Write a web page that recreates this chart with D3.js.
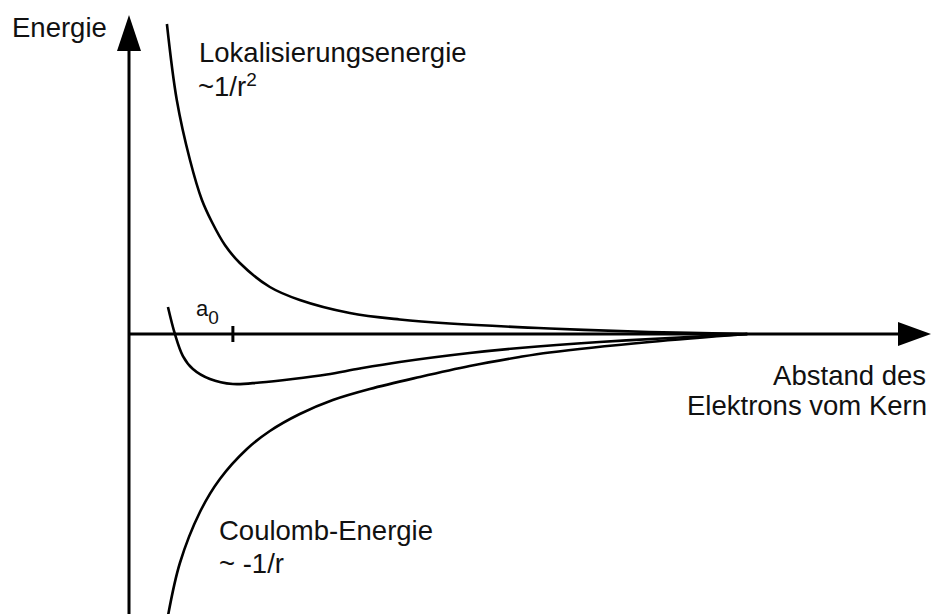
<!DOCTYPE html>
<html>
<head>
<meta charset="utf-8">
<script src="https://cdn.jsdelivr.net/npm/d3@7"></script>
<style>
  html, body { margin: 0; padding: 0; background: #fff; }
  svg text { font-family: "Liberation Sans", Arial, sans-serif; fill: #111; }
</style>
</head>
<body>
<svg id="chart" width="932" height="614"></svg>
<script>
// distance r in units of a0, energy in arbitrary units
const lokalR = [0.365, 0.46, 0.587, 0.702, 0.798, 0.923, 1.067, 1.356, 1.644, 2.125, 2.606, 3.087, 4.048, 5.01, 5.952];
const lokalE = [3.10, 2.34, 1.74, 1.34, 1.12, 0.89, 0.71, 0.47, 0.34, 0.21, 0.145, 0.105, 0.055, 0.02, 0.00];

const totalR = [0.375, 0.442, 0.519, 0.615, 0.779, 1.00, 1.26, 1.577, 1.904, 2.221, 2.606, 3.279, 3.76, 4.529, 5.298, 5.952];
const totalE = [0.27, 0.00, -0.22, -0.35, -0.45, -0.50, -0.485, -0.45, -0.405, -0.345, -0.28, -0.19, -0.14, -0.08, -0.035, 0.00];

const coulR = [0.375, 0.49, 0.683, 0.875, 1.135, 1.356, 1.644, 1.962, 2.317, 2.798, 3.279, 3.76, 4.048, 5.01, 5.952];
const coulE = [-2.82, -2.29, -1.78, -1.45, -1.15, -0.97, -0.80, -0.66, -0.55, -0.43, -0.32, -0.23, -0.185, -0.08, 0.00];

const a0 = 1;
const yLabel = "Energie";
const xLabel = ["Abstand des", "Elektrons vom Kern"];
const lokalLabel = ["Lokalisierungsenergie", "~1/r", "2"];
const coulLabel = ["Coulomb-Energie", "~ -1/r"];

const svg = d3.select("#chart");
const W = 932, H = 614;

const x = d3.scaleLinear().domain([0, 7.72]).range([129, 931]);
const y = d3.scaleLinear().domain([-2.80, 3.34]).range([H, 0]);

const toPts = (rs, es) => rs.map((r, i) => ({ r, e: es[i] }));
const line = d3.line().x(d => x(d.r)).y(d => y(d.e)).curve(d3.curveCatmullRom.alpha(0.5));

// axes
const axG = svg.append("g");
axG.append("line")
  .attr("x1", x(0)).attr("x2", x(0)).attr("y1", y(-2.8)).attr("y2", 50)
  .attr("stroke", "#000").attr("stroke-width", 3);
axG.append("path")
  .attr("d", `M${x(0)},15 L${x(0) - 12},51 L${x(0) + 12},51 Z`).attr("fill", "#000");

axG.append("line")
  .attr("x1", x(0)).attr("x2", 900).attr("y1", y(0)).attr("y2", y(0))
  .attr("stroke", "#000").attr("stroke-width", 3);
axG.append("path")
  .attr("d", `M931,${y(0)} L898,${y(0) - 12} L898,${y(0) + 12} Z`).attr("fill", "#000");

// a0 tick
axG.append("line")
  .attr("x1", x(a0)).attr("x2", x(a0)).attr("y1", y(0) - 8).attr("y2", y(0) + 8)
  .attr("stroke", "#000").attr("stroke-width", 3);

// curves
const curves = svg.append("g").attr("fill", "none").attr("stroke", "#000").attr("stroke-width", 2.6);
[toPts(lokalR, lokalE), toPts(totalR, totalE), toPts(coulR, coulE)].forEach(pts => {
  curves.append("path").datum(pts).attr("d", line);
});

// labels
const fs = 27.5;
svg.append("text").attr("x", 12).attr("y", 37).style("font-size", fs + "px").text(yLabel);

svg.append("text").attr("x", 199).attr("y", 62).style("font-size", fs + "px").text(lokalLabel[0]);
const t2 = svg.append("text").attr("x", 198).attr("y", 96).style("font-size", fs + "px");
t2.append("tspan").text(lokalLabel[1]);
t2.append("tspan").attr("dy", -10).style("font-size", "19px").text(lokalLabel[2]);

const a0t = svg.append("text").attr("x", 196).attr("y", 316).style("font-size", "22px");
a0t.append("tspan").text("a");
a0t.append("tspan").attr("dy", 8).style("font-size", "19px").text("0");

svg.append("text").attr("x", 926).attr("y", 385).attr("text-anchor", "end").style("font-size", fs + "px").text(xLabel[0]);
svg.append("text").attr("x", 927).attr("y", 415).attr("text-anchor", "end").style("font-size", fs + "px").text(xLabel[1]);

svg.append("text").attr("x", 219).attr("y", 540).style("font-size", fs + "px").text(coulLabel[0]);
svg.append("text").attr("x", 219).attr("y", 573).style("font-size", fs + "px").text(coulLabel[1]);
</script>
</body>
</html>
